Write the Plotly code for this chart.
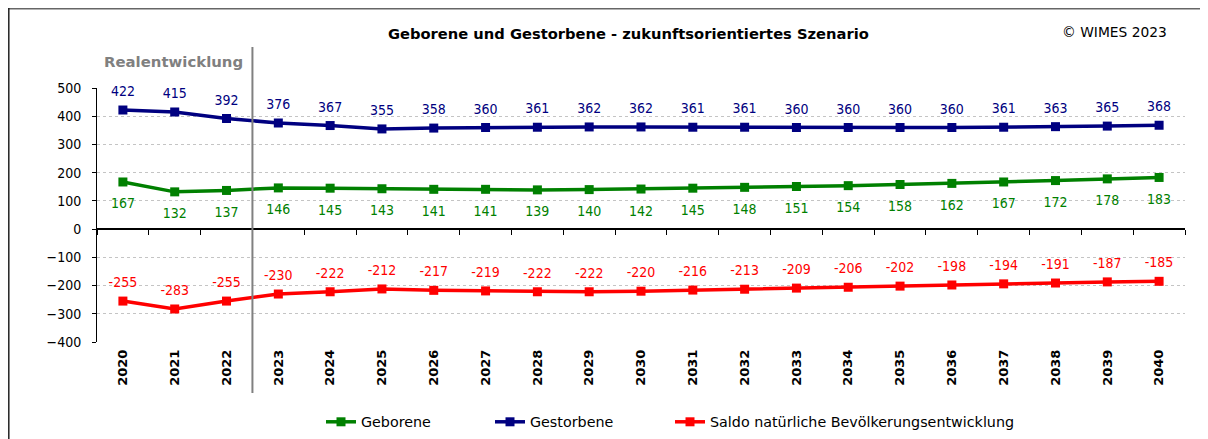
import plotly.graph_objects as go

years = [str(y) for y in range(2020, 2041)]
geborene = [167, 132, 137, 146, 145, 143, 141, 141, 139, 140, 142, 145, 148, 151, 154, 158, 162, 167, 172, 178, 183]
gestorbene = [422, 415, 392, 376, 367, 355, 358, 360, 361, 362, 362, 361, 361, 360, 360, 360, 360, 361, 363, 365, 368]
saldo = [-255, -283, -255, -230, -222, -212, -217, -219, -222, -222, -220, -216, -213, -209, -206, -202, -198, -194, -191, -187, -185]

title_text = "Geborene und Gestorbene - zukunftsorientiertes Szenario"
copyright_text = "© WIMES 2023"
real_text = "Realentwicklung"

# window is 1208x439; the page body has an 8px margin, so the figure is shrunk by it
OFF = 8
WIN_W, WIN_H = 1208, 439
W, H = WIN_W - OFF, WIN_H - OFF
# plot area in window pixel coordinates
PL, PR, PT, PB = 97, 1185, 88, 342
PW, PH = PR - PL, PB - PT

def px(x):
    return (x - PL) / PW

def py(y):
    return (PB - y) / PH

FONT = "DejaVu Sans"
COND = "DejaVu Sans Condensed, DejaVu Sans"

fig = go.Figure()

series = [
    ("Geborene", geborene, "#008000", "bottom center", 24, "legend", 321),
    ("Gestorbene", gestorbene, "#000080", "top center", 15, "legend2", 490),
    ("Saldo natürliche Bevölkerungsentwicklung", saldo, "#FF0000", "top center", 15.5, "legend3", 670),
]
for name, vals, col, tp, lblsize, leg, _ in series:
    fig.add_trace(go.Scatter(
        x=years, y=vals, name=name, mode="lines+markers",
        line=dict(color=col, width=3.5),
        marker=dict(symbol="square", size=9, color=col),
        cliponaxis=False, legend=leg,
    ))
for name, vals, col, tp, lblsize, leg, _ in series:
    fig.add_trace(go.Scatter(
        x=years, y=vals, mode="markers+text", showlegend=False, hoverinfo="skip",
        marker=dict(size=lblsize, opacity=0, color=col),
        text=[str(v) for v in vals], textposition=tp,
        textfont=dict(family=COND, size=14, color=col),
        cliponaxis=False,
    ))

# helper trace so the zero-line axis gets categories
fig.add_trace(go.Scatter(x=years, y=[None] * len(years), xaxis="x2", showlegend=False,
                         hoverinfo="skip", mode="lines"))

legend_common = dict(orientation="h", y=py(422), xanchor="left", yanchor="middle",
                     font=dict(family=FONT, size=14.3, color="black"),
                     itemwidth=30, bgcolor="rgba(0,0,0,0)")

fig.update_layout(
    width=W, height=H,
    margin=dict(l=PL - OFF, r=WIN_W - PR, t=PT - OFF, b=WIN_H - PB, autoexpand=False),
    paper_bgcolor="white", plot_bgcolor="white",
    font=dict(family=FONT, size=12, color="black"),
    xaxis=dict(type="category", categoryarray=years, range=[-0.5, 20.5],
               showline=False, ticks="", showgrid=False, zeroline=False, automargin=False,
               tickangle=-90, ticklabelstandoff=4,
               tickfont=dict(family=FONT, size=13, color="black", weight="bold")),
    xaxis2=dict(type="category", categoryarray=years, range=[-0.5, 20.5],
                overlaying="x", anchor="free", position=4 / 9,
                showline=True, linecolor="black", linewidth=1.5,
                ticks="outside", tickson="boundaries", ticklen=5, tickcolor="black",
                showticklabels=False, showgrid=False, zeroline=False, automargin=False),
    yaxis=dict(range=[-400, 500], dtick=100, showline=True, linecolor="black", linewidth=1,
               ticks="outside", ticklen=4, tickcolor="black", automargin=False,
               showgrid=True, gridcolor="#c4c4c4", griddash="dot", gridwidth=1,
               zeroline=False, ticklabelstandoff=8,
               tickfont=dict(family=COND, size=14, color="black")),
    legend=dict(x=px(series[0][6]), **legend_common),
    legend2=dict(x=px(series[1][6]), **legend_common),
    legend3=dict(x=px(series[2][6]), **legend_common),
    showlegend=True,
)

fig.add_annotation(text="<b>" + title_text + "</b>", xref="paper", yref="paper",
                   x=px(628), y=py(34), xanchor="center", yanchor="middle",
                   showarrow=False, font=dict(family=FONT, size=14.7, color="black"))
fig.add_annotation(text=copyright_text, xref="paper", yref="paper",
                   x=px(1060), y=py(32), xanchor="left", yanchor="middle",
                   showarrow=False, font=dict(family=FONT, size=13.8, color="black"))
fig.add_annotation(text="<b>" + real_text + "</b>", xref="paper", yref="paper",
                   x=px(102), y=py(62), xanchor="left", yanchor="middle",
                   showarrow=False, font=dict(family=FONT, size=14.9, color="#808080"))

# separator between real development and scenario
fig.add_shape(type="line", xref="x", yref="paper", x0=2.5, x1=2.5, y0=py(393), y1=py(47),
              line=dict(color="#808080", width=2))

# outer frame (top and left edges)
fig.add_shape(type="line", xref="paper", yref="paper", x0=px(8), x1=px(1215), y0=py(8.8), y1=py(8.8),
              line=dict(color="#666666", width=1.5))
fig.add_shape(type="line", xref="paper", yref="paper", x0=px(8.8), x1=px(8.8), y0=py(8), y1=py(445),
              line=dict(color="#222222", width=1.5))

fig.write_html("out.html")
